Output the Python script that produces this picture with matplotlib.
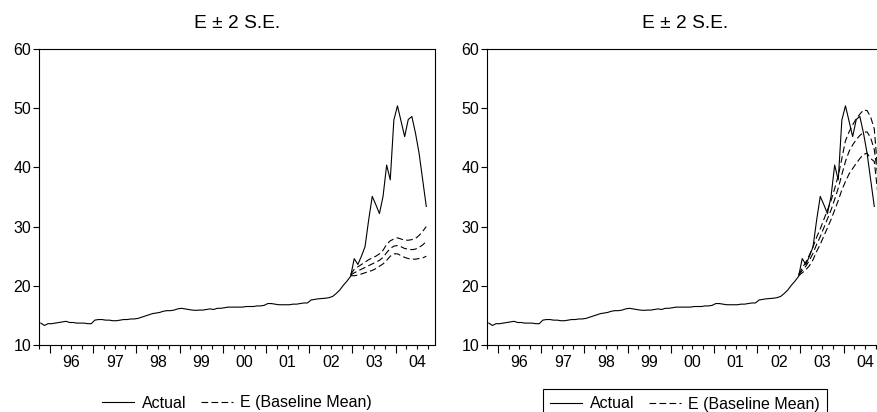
import pandas as pd
import matplotlib
matplotlib.use("Agg")
import matplotlib.pyplot as plt

plt.rcParams['font.family'] = ['Liberation Sans', 'DejaVu Sans']
plt.rcParams['font.size'] = 11.5

# monthly sample Oct 1995 - Sep 2004
months = pd.period_range('1995-10', '2004-09', freq='M')
actual = [
    13.7, 13.3, 13.6,                                                      # 95
    13.6, 13.7, 13.8, 13.9, 14.0, 13.8, 13.8, 13.7, 13.7, 13.7, 13.6, 13.6,  # 96
    14.2, 14.3, 14.3, 14.2, 14.2, 14.1, 14.1, 14.2, 14.3, 14.3, 14.4, 14.4,  # 97
    14.5, 14.7, 14.9, 15.1, 15.3, 15.4, 15.5, 15.7, 15.8, 15.8, 15.9, 16.1,  # 98
    16.2, 16.1, 16.0, 15.9, 15.85, 15.9, 15.9, 16.0, 16.1, 16.0, 16.2, 16.2,  # 99
    16.3, 16.4, 16.4, 16.4, 16.4, 16.4, 16.5, 16.5, 16.5, 16.6, 16.6, 16.7,  # 00
    17.0, 17.0, 16.9, 16.8, 16.8, 16.8, 16.8, 16.9, 16.9, 17.0, 17.1, 17.1,  # 01
    17.6, 17.7, 17.8, 17.85, 17.9, 18.0, 18.2, 18.7, 19.3, 20.1, 20.8, 21.6,  # 02
    24.6, 23.6, 25.0, 26.6, 31.1, 35.1, 33.7, 32.2, 35.1, 40.4, 37.9, 48.0,  # 03
    50.4, 47.8, 45.2, 48.1, 48.6, 45.8, 42.4, 37.9, 33.4,                    # 04
]

# baseline forecast Dec 2002 - Sep 2004
fc_months = pd.period_range('2002-12', '2004-09', freq='M')
base_mean = [21.8, 22.2, 22.5, 22.8, 23.1, 23.4, 23.7, 24.0, 24.3, 24.8, 25.6, 26.3,
             26.7, 26.8, 26.6, 26.3, 26.2, 26.1, 26.2, 26.5, 26.9, 27.5]
base_upper = [21.9, 22.8, 23.2, 23.6, 24.0, 24.4, 24.7, 25.0, 25.4, 26.0, 27.0, 27.6,
              27.9, 28.1, 27.9, 27.7, 27.7, 27.8, 28.0, 28.5, 29.2, 30.0]
base_lower = [21.7, 21.7, 21.8, 22.0, 22.2, 22.4, 22.6, 22.9, 23.3, 23.7, 24.3, 25.0,
              25.4, 25.4, 25.1, 24.8, 24.6, 24.5, 24.5, 24.6, 24.7, 25.0]

# second panel forecast Dec 2002 - Nov 2004
alt_months = pd.period_range('2002-12', '2004-11', freq='M')
alt_mean = [21.8, 22.6, 23.3, 24.3, 25.5, 27.0, 28.3, 29.8, 31.3, 32.8, 34.6, 36.5,
            38.8, 41.0, 42.7, 43.8, 44.7, 45.4, 45.9, 46.0, 45.0, 43.0, 38.5, 33.0]
alt_upper = [21.9, 23.0, 24.0, 25.2, 26.6, 28.2, 29.6, 31.2, 32.8, 34.4, 36.4, 38.6,
             41.5, 44.5, 46.0, 47.2, 48.2, 49.0, 49.7, 49.6, 48.5, 46.5, 39.0, 31.0]
alt_lower = [21.7, 22.2, 22.7, 23.4, 24.4, 25.8, 27.0, 28.4, 29.8, 31.2, 32.8, 34.4,
             36.2, 37.6, 38.9, 39.8, 40.7, 41.5, 42.2, 42.4, 41.5, 41.0, 35.5, 30.0]

year_labels = ['96', '97', '98', '99', '00', '01', '02', '03', '04']
first_year = 1996


def to_x(periods):
    return [p.year + (p.month - 0.5) / 12 for p in periods]


def draw_panel(ax, fm, mean, upper, lower):
    ax.plot(to_x(months), actual, color='black', lw=0.8, label='Actual')
    dash = dict(color='black', lw=0.8, dashes=(6, 3))
    ax.plot(to_x(fm), mean, label='E (Baseline Mean)', **dash)
    ax.plot(to_x(fm), upper, **dash)
    ax.plot(to_x(fm), lower, **dash)

    ax.set_xlim(1995.75, 2004.91)
    ax.set_ylim(10, 60)
    ax.set_yticks([10, 20, 30, 40, 50, 60])
    ax.tick_params(axis='y', direction='out', length=4, width=0.8, pad=1.5)

    years = [first_year + i for i in range(len(year_labels))]
    quarters = [1995.75 + 0.25 * i for i in range(37)]
    ax.set_xticks(years, [''] * len(years))
    ax.set_xticks(quarters, minor=True)
    ax.tick_params(axis='x', which='major', direction='out', length=6, width=0.8)
    ax.tick_params(axis='x', which='minor', direction='out', length=3, width=0.8)

    sec = ax.secondary_xaxis('bottom')
    sec.set_xticks([y + 0.5 for y in years], year_labels)
    sec.tick_params(length=0, pad=7.5)
    sec.spines['bottom'].set_visible(False)

    for s in ax.spines.values():
        s.set_linewidth(0.8)
    ax.set_title('E \u00b1 2 S.E.', pad=15)


fig = plt.figure(figsize=(8.78, 4.12), dpi=100)
ax1 = fig.add_axes([39 / 878, 67 / 412, 396 / 878, 296 / 412])
ax2 = fig.add_axes([487 / 878, 67 / 412, 396 / 878, 296 / 412])

draw_panel(ax1, fc_months, base_mean, base_upper, base_lower)
draw_panel(ax2, alt_months, alt_mean, alt_upper, alt_lower)

leg_kw = dict(loc='center', ncol=2, handlelength=2.0, handletextpad=0.5,
              columnspacing=0.9, fontsize=11.5)
ax1.legend(bbox_to_anchor=(237 / 878, 9 / 412), bbox_transform=fig.transFigure,
           frameon=False, **leg_kw)
leg2 = ax2.legend(bbox_to_anchor=(685 / 878, 8 / 412), bbox_transform=fig.transFigure,
                  frameon=True, fancybox=False, edgecolor='black', framealpha=1,
                  borderpad=0.45, **leg_kw)
leg2.get_frame().set_linewidth(0.8)

fig.savefig('out.png', dpi=100)
